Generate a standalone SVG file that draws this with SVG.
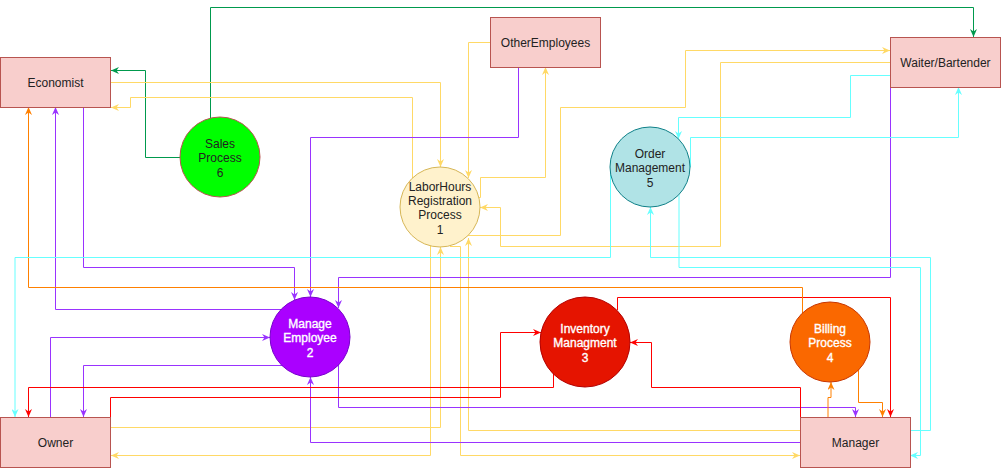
<svg xmlns="http://www.w3.org/2000/svg" width="1002" height="469" viewBox="0 0 1002 469">
<style>
text{font-family:"Liberation Sans",Arial,Helvetica,sans-serif;font-size:12px;text-anchor:middle;fill:#222}
.w{fill:#fff;stroke:#fff;stroke-width:0.35}
.e{fill:none;stroke-width:1}
.ent{fill:#f8cecc;stroke:#b85450}
.g{stroke:#00994d}.y{stroke:#ffd966}.p{stroke:#9933ff}.r{stroke:#ff0000}.o{stroke:#ff8000}.c{stroke:#66ffff}
</style>
<defs>
<marker id="ag" viewBox="0 0 8 7" refX="8" refY="3.5" markerWidth="8" markerHeight="7" markerUnits="userSpaceOnUse" orient="auto"><path d="M8,3.5 L0,0 L2.5,3.5 L0,7 Z" fill="#00994d"/></marker>
<marker id="ay" viewBox="0 0 8 7" refX="8" refY="3.5" markerWidth="8" markerHeight="7" markerUnits="userSpaceOnUse" orient="auto"><path d="M8,3.5 L0,0 L2.5,3.5 L0,7 Z" fill="#ffd966"/></marker>
<marker id="ap" viewBox="0 0 8 7" refX="8" refY="3.5" markerWidth="8" markerHeight="7" markerUnits="userSpaceOnUse" orient="auto"><path d="M8,3.5 L0,0 L2.5,3.5 L0,7 Z" fill="#9933ff"/></marker>
<marker id="ar" viewBox="0 0 8 7" refX="8" refY="3.5" markerWidth="8" markerHeight="7" markerUnits="userSpaceOnUse" orient="auto"><path d="M8,3.5 L0,0 L2.5,3.5 L0,7 Z" fill="#ff0000"/></marker>
<marker id="ao" viewBox="0 0 8 7" refX="8" refY="3.5" markerWidth="8" markerHeight="7" markerUnits="userSpaceOnUse" orient="auto"><path d="M8,3.5 L0,0 L2.5,3.5 L0,7 Z" fill="#ff8000"/></marker>
<marker id="ac" viewBox="0 0 8 7" refX="8" refY="3.5" markerWidth="8" markerHeight="7" markerUnits="userSpaceOnUse" orient="auto"><path d="M8,3.5 L0,0 L2.5,3.5 L0,7 Z" fill="#66ffff"/></marker>
</defs>
<g id="connectors">
<path class="e g" marker-end="url(#ag)" d="M180 157.5 L145.5 157.5 L145.5 70.5 L111 70.5"/>
<path class="e g" marker-end="url(#ag)" d="M210.5 120 L210.5 7.5 L973.5 7.5 L973.5 37"/>
<path class="e y" marker-end="url(#ay)" d="M111 82.5 L440.5 82.5 L440.5 167"/>
<path class="e y" marker-end="url(#ay)" d="M412.5 185 L412.5 97.5 L130.5 97.5 L130.5 107.5 L111 107.5"/>
<path class="e y" marker-end="url(#ay)" d="M490 42.5 L468.5 42.5 L468.5 178"/>
<path class="e y" marker-end="url(#ay)" d="M475 197.5 L480.5 197.5 L480.5 177.5 L545.5 177.5 L545.5 67"/>
<path class="e y" marker-end="url(#ay)" d="M460 235.5 L560.5 235.5 L560.5 107.5 L685.5 107.5 L685.5 50.5 L890 50.5"/>
<path class="e y" marker-end="url(#ay)" d="M890 62.5 L720.5 62.5 L720.5 246.5 L500.5 246.5 L500.5 207.5 L480 207.5"/>
<path class="e y" marker-end="url(#ay)" d="M110 427.5 L440.5 427.5 L440.5 247"/>
<path class="e y" marker-end="url(#ay)" d="M430.5 240 L430.5 455.5 L111 455.5"/>
<path class="e y" marker-end="url(#ay)" d="M450 246.5 L460.5 246.5 L460.5 455.5 L800 455.5"/>
<path class="e y" marker-end="url(#ay)" d="M800 430.5 L468.5 430.5 L468.5 238"/>
<path class="e p" marker-end="url(#ap)" d="M518.5 67 L518.5 137.5 L310.5 137.5 L310.5 297"/>
<path class="e p" marker-end="url(#ap)" d="M83.5 107 L83.5 267.5 L294.5 267.5 L294.5 300"/>
<path class="e p" marker-end="url(#ap)" d="M290 309.5 L55.5 309.5 L55.5 107"/>
<path class="e p" marker-end="url(#ap)" d="M890.5 87 L890.5 277.5 L338.5 277.5 L338.5 308"/>
<path class="e p" marker-end="url(#ap)" d="M50.5 417 L50.5 337.5 L270 337.5"/>
<path class="e p" marker-end="url(#ap)" d="M290 365.5 L83.5 365.5 L83.5 417"/>
<path class="e p" marker-end="url(#ap)" d="M800 442.5 L310.5 442.5 L310.5 377"/>
<path class="e p" marker-end="url(#ap)" d="M338.5 360 L338.5 407.5 L855.5 407.5 L855.5 417"/>
<path class="e r" marker-end="url(#ar)" d="M553.5 370 L553.5 387.5 L28.5 387.5 L28.5 417"/>
<path class="e r" marker-end="url(#ar)" d="M110.5 417 L110.5 397.5 L500.5 397.5 L500.5 332.5 L541 332.5"/>
<path class="e r" marker-end="url(#ar)" d="M617.5 310 L617.5 297.5 L890.5 297.5 L890.5 417"/>
<path class="e r" marker-end="url(#ar)" d="M800.5 417 L800.5 387.5 L651.5 387.5 L651.5 342.5 L630 342.5"/>
<path class="e o" marker-end="url(#ao)" d="M802.5 318 L802.5 287.5 L28.5 287.5 L28.5 107"/>
<path class="e o" marker-end="url(#ao)" d="M828 417 L828 397.5 L831 397.5 L831 382"/>
<path class="e o" marker-end="url(#ao)" d="M858.5 365 L858.5 402.5 L882.5 402.5 L882.5 417"/>
<path class="e c" marker-end="url(#ac)" d="M610.5 172 L610.5 257.5 L15 257.5 L15 417"/>
<path class="e c" marker-end="url(#ac)" d="M910 430.5 L930.5 430.5 L930.5 257.5 L650.5 257.5 L650.5 207"/>
<path class="e c" marker-end="url(#ac)" d="M679 195 L679 267.5 L920.5 267.5 L920.5 455.5 L910 455.5"/>
<path class="e c" marker-end="url(#ac)" d="M890 75.5 L850.5 75.5 L850.5 117.5 L678.5 117.5 L678.5 139"/>
<path class="e c" marker-end="url(#ac)" d="M686 167 L690.5 167 L690.5 137.5 L958.5 137.5 L958.5 87"/>
</g>
<g id="economist"><rect class="ent" x="0.5" y="57.5" width="110" height="50"/><text x="55.5" y="86.5">Economist</text></g>
<g id="other-employees"><rect class="ent" x="490.5" y="17.5" width="110" height="50"/><text x="545.5" y="46.5">OtherEmployees</text></g>
<g id="waiter-bartender"><rect class="ent" x="890.5" y="37.5" width="110" height="50"/><text x="945.5" y="66.5">Waiter/Bartender</text></g>
<g id="owner"><rect class="ent" x="0.5" y="417.5" width="110" height="50"/><text x="55.5" y="446.5">Owner</text></g>
<g id="manager"><rect class="ent" x="800.5" y="417.5" width="110" height="50"/><text x="855.5" y="446.5">Manager</text></g>
<g id="sales-process"><circle cx="220" cy="157" r="40" fill="#00ff00" stroke="#b85450"/><text x="220" y="148">Sales</text><text x="220" y="162.4">Process</text><text x="220" y="176.8">6</text></g>
<g id="laborhours"><circle cx="440" cy="207" r="40" fill="#fff2cc" stroke="#d6b656"/><text x="440" y="190.5">LaborHours</text><text x="440" y="204.9">Registration</text><text x="440" y="219.3">Process</text><text x="440" y="233.7">1</text></g>
<g id="order-management"><circle cx="650" cy="167" r="40" fill="#b0e3e6" stroke="#0e8088"/><text x="650" y="158">Order</text><text x="650" y="172.4">Management</text><text x="650" y="186.8">5</text></g>
<g id="manage-employee"><circle cx="310" cy="337" r="40" fill="#aa00ff" stroke="#7700cc"/><text class="w" x="310" y="328">Manage</text><text class="w" x="310" y="342.4">Employee</text><text class="w" x="310" y="356.8">2</text></g>
<g id="inventory"><circle cx="585" cy="342" r="45" fill="#e51400" stroke="#b20000"/><text class="w" x="585" y="333">Inventory</text><text class="w" x="585" y="347.4">Managment</text><text class="w" x="585" y="361.8">3</text></g>
<g id="billing"><circle cx="830" cy="342" r="40" fill="#fa6800" stroke="#c73500"/><text class="w" x="830" y="333">Billing</text><text class="w" x="830" y="347.4">Process</text><text class="w" x="830" y="361.8">4</text></g>
</svg>
